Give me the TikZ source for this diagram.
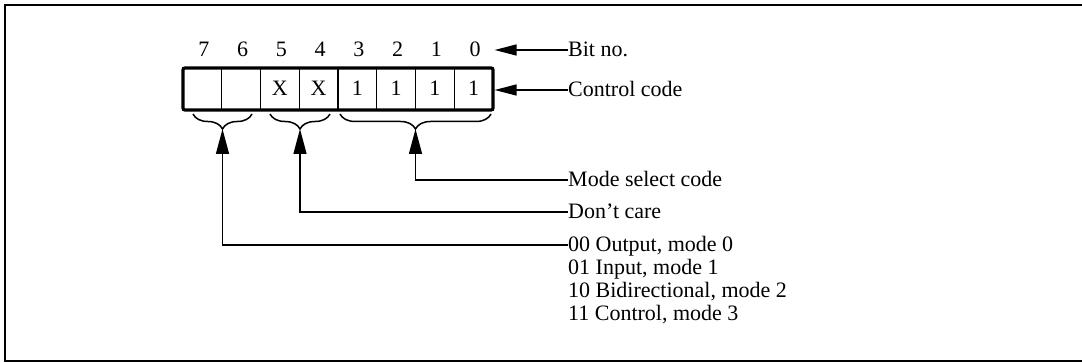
\documentclass[tikz,border=0pt]{standalone}
\usepackage{fontspec}
\setmainfont{Liberation Serif}
\usetikzlibrary{arrows.meta,decorations.pathreplacing}
\begin{document}
\begin{tikzpicture}[x=1pt,y=-1pt,
  txt/.style={inner sep=0pt,font=\fontsize{22}{26}\selectfont,text height=14pt,text depth=0pt},
  lbl/.style={txt,anchor=west},
  cell/.style={draw,line width=1.4pt,minimum width=38.75pt,minimum height=42pt,inner sep=0pt,txt},
  regbox/.style={draw,line width=3.2pt,rounded corners=2pt,minimum width=310pt,minimum height=42pt,inner sep=0pt},
  bracestyle/.style={decorate,decoration={brace,mirror,amplitude=15pt},line width=1.5pt},
  uparrow/.style={line width=1.4pt,-{Triangle[length=25pt,width=13pt]}},
  sidearrow/.style={line width=1.4pt,-{Triangle[length=22pt,width=11pt]}},
  framestyle/.style={line width=2.2pt}
]
\fill[white] (0,0) rectangle (1082,363);
\useasboundingbox (0,0) rectangle (1082,363);
% frame
\draw[framestyle] (1082,5) -- (5,5) -- (5,361) -- (1082,361);
% register cells
\foreach \k/\b/\t in {0/7/{},1/6/{},2/5/X,3/4/X,4/3/1,5/2/1,6/1/1,7/0/1}{
  \node[cell] (c\b) at ({183+38.75*(\k+0.5)},89) {\t};
  \node[txt] (b\b) at ({183+38.75*(\k+0.5)+1.5},50) {\b};
}
\node[regbox] (reg) at (338,89) {};
% braces
\draw[bracestyle] (193,114) -- (252,114);
\draw[bracestyle] (270,114) -- (330,114);
\draw[bracestyle] (340,114) -- (491,114);
\coordinate (t1) at (222.5,129);
\coordinate (t2) at (300,129);
\coordinate (t3) at (415.5,129);
% labels
\node[lbl] (bitno) at (568,50) {Bit no.};
\node[lbl] (ccode) at (568,90) {Control code};
\node[lbl] (msel) at (568,180) {Mode select code};
\node[lbl] (dcare) at (568,212) {Don’t care};
\node[lbl] (m0) at (568,245) {00 Output, mode 0};
\node[lbl] (m1) at (568,268) {01 Input, mode 1};
\node[lbl] (m2) at (568,291) {10 Bidirectional, mode 2};
\node[lbl] (m3) at (568,314) {11 Control, mode 3};
% connectors
\draw[sidearrow] (bitno.west) -- (bitno.west -| reg.east);
\draw[sidearrow] (ccode.west) -- (ccode.west -| reg.east);
\draw[uparrow] (msel.west) -| (t3);
\draw[uparrow] (dcare.west) -| (t2);
\draw[uparrow] (m0.west) -| (t1);
\end{tikzpicture}
\end{document}
